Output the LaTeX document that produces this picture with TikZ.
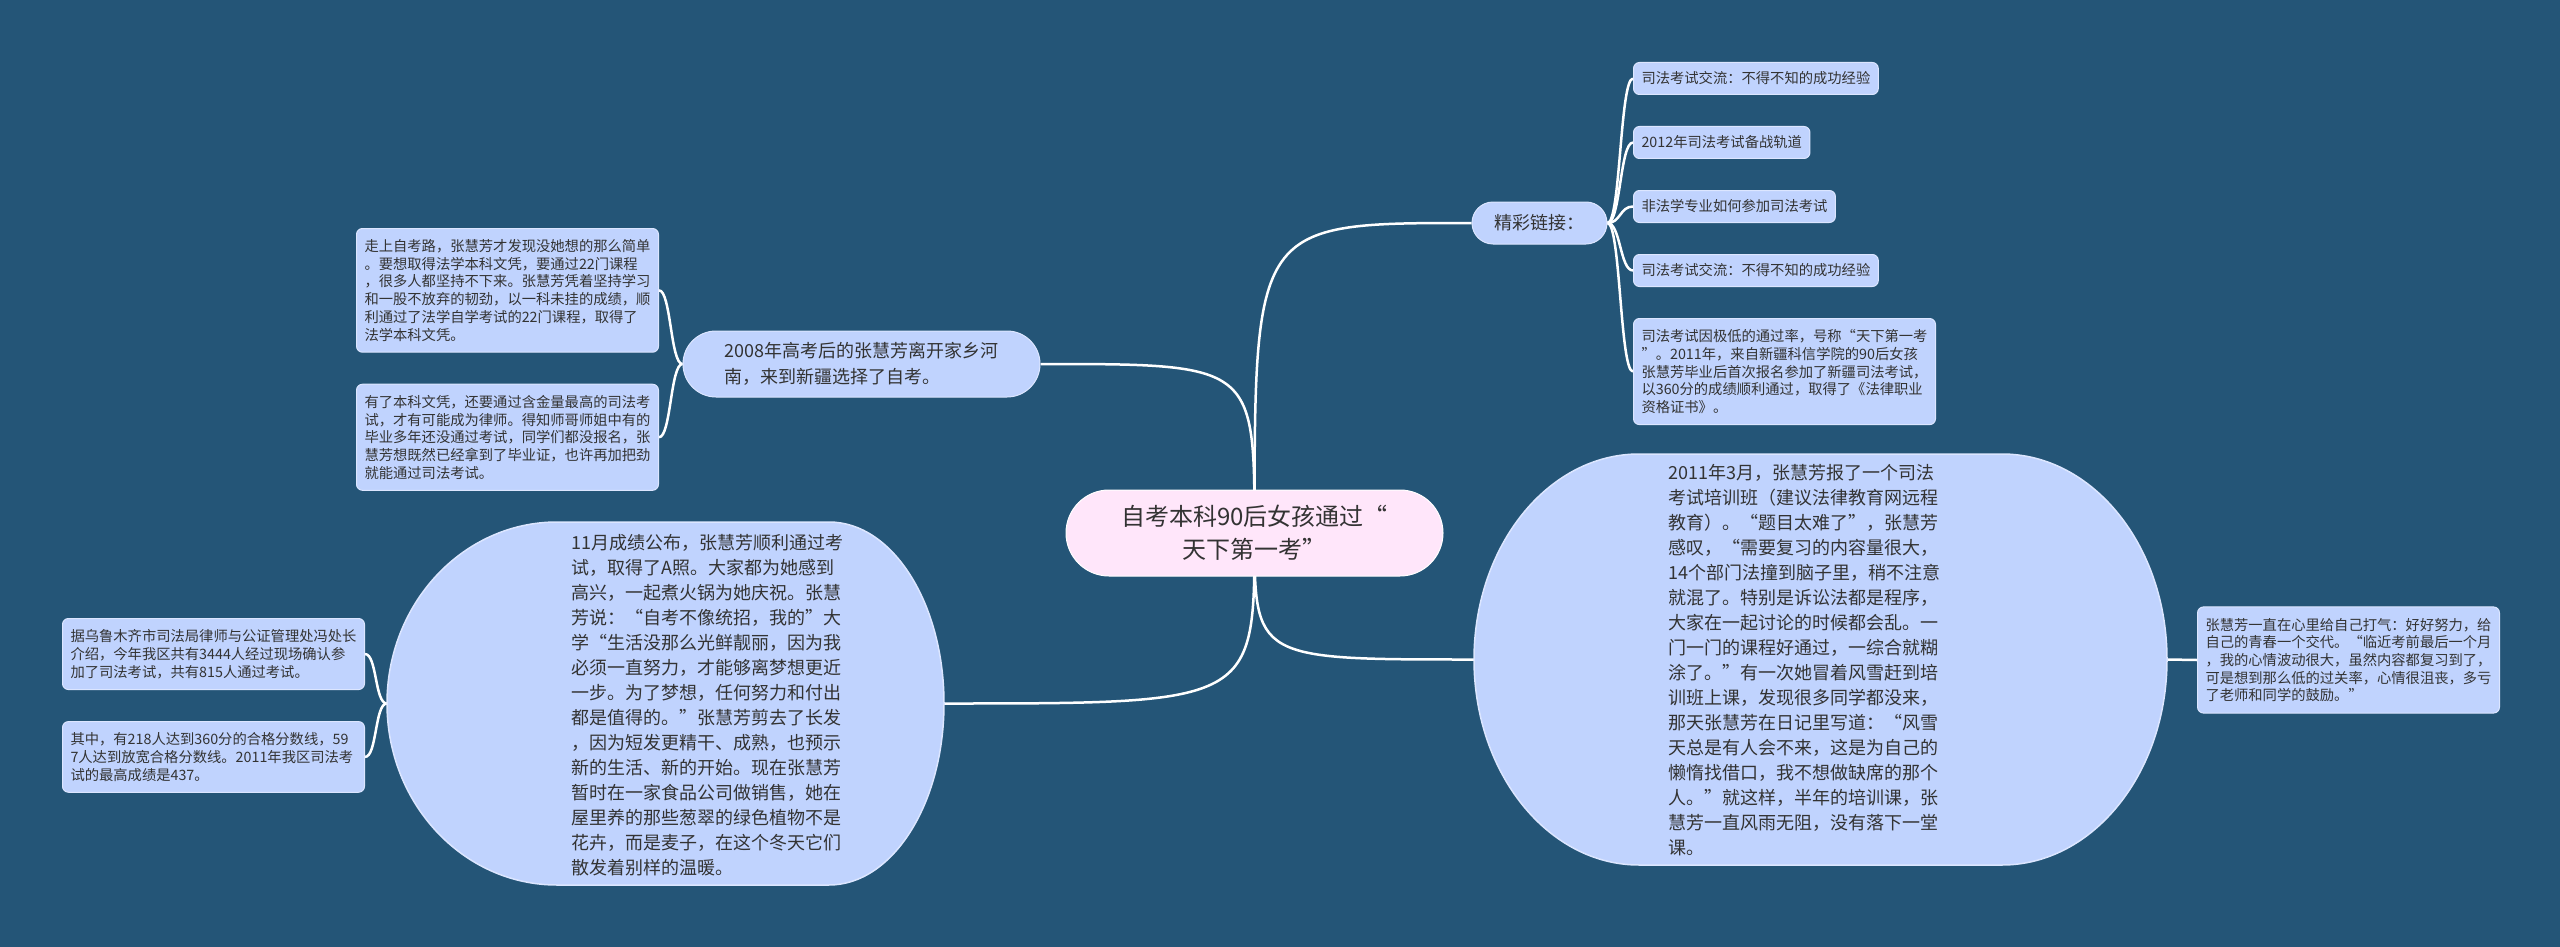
\documentclass[tikz,border=0pt]{standalone}
\usepackage{fontspec}
\usepackage{tikz}
\usetikzlibrary{positioning}
\newfontfamily\cjk{Noto Sans CJK SC}
\definecolor{bgblue}{HTML}{245577}
\definecolor{nodeblue}{HTML}{C0D3FE}
\definecolor{nodeedge}{HTML}{DCE6FF}
\definecolor{rootpink}{HTML}{FFE6FA}
\definecolor{inkgray}{HTML}{333333}
\pgfdeclarelayer{background}
\pgfsetlayers{background,main}
\tikzstyle{conn} = [draw=white, line width=2.5pt]
\tikzstyle{rootbox} = [draw=white, line width=1pt, fill=rootpink, rounded corners=43pt, minimum width=377pt, minimum height=86pt, align=center, text=inkgray, font=\cjk\fontsize{24pt}{33pt}\selectfont]
\tikzstyle{topicbox} = [draw=nodeedge, line width=1pt, fill=nodeblue, rounded corners=33pt, minimum width=357pt, minimum height=66pt, align=left, text=inkgray, font=\cjk\fontsize{18pt}{26pt}\selectfont]
\tikzstyle{notebox} = [draw=nodeedge, line width=1pt, fill=nodeblue, rounded corners=6pt, text width=286pt, inner xsep=8pt, inner ysep=11pt, align=left, text=inkgray, font=\cjk\fontsize{14.3pt}{17.7pt}\selectfont]
\tikzstyle{linkbox} = [draw=nodeedge, line width=1pt, fill=nodeblue, rounded corners=6pt, inner xsep=8pt, minimum height=32pt, text=inkgray, font=\cjk\fontsize{14.3pt}{17.7pt}\selectfont]
\tikzstyle{bigframe} = [inner sep=0pt]
\tikzstyle{bigfill} = [draw=nodeedge, line width=1.5pt, fill=nodeblue]
\tikzstyle{bigtext} = [inner sep=0pt, text width=275pt, align=left, text=inkgray, font=\cjk\fontsize{18pt}{25pt}\selectfont]
% x1,y1,x2,y2,left rx,right rx,ry
\newcommand{\bigpill}[7]{({#1+#5},#2) -- ({#3-#6},#2)
  .. controls ({#3-0.448*#6},#2) and (#3,{#2+0.448*#7}) .. (#3,{#2+#7})
  -- (#3,{#4-#7})
  .. controls (#3,{#4-0.448*#7}) and ({#3-0.448*#6},#4) .. ({#3-#6},#4)
  -- ({#1+#5},#4)
  .. controls ({#1+0.448*#5},#4) and (#1,{#4-0.448*#7}) .. (#1,{#4-#7})
  -- (#1,{#2+#7})
  .. controls (#1,{#2+0.448*#7}) and ({#1+0.448*#5},#2) .. ({#1+#5},#2) -- cycle}

\begin{document}
\begin{tikzpicture}[x=1pt, y=-1pt]
\useasboundingbox (0,0) rectangle (2560,947);

\node (root) [rootbox] at (1254.5,533) {自考本科90后女孩通过“\\天下第一考”};

\node (c2008) [topicbox] at (861.5,364) {2008年高考后的张慧芳离开家乡河\\南，来到新疆选择了自考。};
\node (note1) [notebox, anchor=north west] at (356,228) {走上自考路，张慧芳才发现没她想的那么简单\\。要想取得法学本科文凭，要通过22门课程\\，很多人都坚持不下来。张慧芳凭着坚持学习\\和一股不放弃的韧劲，以一科未挂的成绩，顺\\利通过了法学自学考试的22门课程，取得了\\法学本科文凭。};
\node (note2) [notebox, below=31pt of note1] {有了本科文凭，还要通过含金量最高的司法考\\试，才有可能成为律师。得知师哥师姐中有的\\毕业多年还没通过考试，同学们都没报名，张\\慧芳想既然已经拿到了毕业证，也许再加把劲\\就能通过司法考试。};

\node (cNov) [bigframe, minimum width=557pt, minimum height=363pt] at (665.5,703.5) {};
\filldraw [bigfill] \bigpill{387}{522}{944}{885}{170}{115}{181.5};
\node (cNovtxt) [bigtext] at (709,705) {11月成绩公布，张慧芳顺利通过考\\试，取得了A照。大家都为她感到\\高兴，一起煮火锅为她庆祝。张慧\\芳说：“自考不像统招，我的”大\\学“生活没那么光鲜靓丽，因为我\\必须一直努力，才能够离梦想更近\\一步。为了梦想，任何努力和付出\\都是值得的。”张慧芳剪去了长发\\，因为短发更精干、成熟，也预示\\新的生活、新的开始。现在张慧芳\\暂时在一家食品公司做销售，她在\\屋里养的那些葱翠的绿色植物不是\\花卉，而是麦子，在这个冬天它们\\散发着别样的温暖。};
\node (noteA) [notebox, anchor=north west] at (62,618) {据乌鲁木齐市司法局律师与公证管理处冯处长\\介绍，今年我区共有3444人经过现场确认参\\加了司法考试，共有815人通过考试。};
\node (noteB) [notebox, below=31pt of noteA] {其中，有218人达到360分的合格分数线，59\\7人达到放宽合格分数线。2011年我区司法考\\试的最高成绩是437。};

\node (cLinks) [topicbox, rounded corners=21pt, minimum width=135pt, minimum height=42pt] at (1539.5,223) {精彩链接：};
\node (link1) [linkbox, anchor=north west] at (1633,62) {司法考试交流：不得不知的成功经验};
\node (link2) [linkbox, below=31pt of link1.south west, anchor=north west] {2012年司法考试备战轨道};
\node (link3) [linkbox, below=31pt of link2.south west, anchor=north west] {非法学专业如何参加司法考试};
\node (link4) [linkbox, below=31pt of link3.south west, anchor=north west] {司法考试交流：不得不知的成功经验};
\node (link5) [notebox, below=31pt of link4.south west, anchor=north west] {司法考试因极低的通过率，号称“天下第一考\\”。2011年，来自新疆科信学院的90后女孩\\张慧芳毕业后首次报名参加了新疆司法考试，\\以360分的成绩顺利通过，取得了《法律职业\\资格证书》。};

\node (cMar) [bigframe, minimum width=693pt, minimum height=411pt] at (1820.5,659.5) {};
\filldraw [bigfill] \bigpill{1474}{454}{2167}{865}{165}{165}{205.5};
\node (cMartxt) [bigtext] at (1806,660) {2011年3月，张慧芳报了一个司法\\考试培训班（建议法律教育网远程\\教育）。“题目太难了”，张慧芳\\感叹，“需要复习的内容量很大，\\14个部门法撞到脑子里，稍不注意\\就混了。特别是诉讼法都是程序，\\大家在一起讨论的时候都会乱。一\\门一门的课程好通过，一综合就糊\\涂了。”有一次她冒着风雪赶到培\\训班上课，发现很多同学都没来，\\那天张慧芳在日记里写道：“风雪\\天总是有人会不来，这是为自己的\\懒惰找借口，我不想做缺席的那个\\人。”就这样，半年的培训课，张\\慧芳一直风雨无阻，没有落下一堂\\课。};
\node (rnote) [notebox, anchor=west] at (2197,660) {张慧芳一直在心里给自己打气：好好努力，给\\自己的青春一个交代。“临近考前最后一个月\\，我的心情波动很大，虽然内容都复习到了，\\可是想到那么低的过关率，心情很沮丧，多亏\\了老师和同学的鼓励。”};

\begin{pgfonlayer}{background}
\fill [bgblue] (0,0) rectangle (2560,947);
\draw [conn] (root.center) .. controls (root.center |- c2008.east) .. (c2008.east);
\draw [conn] (root.center) .. controls (root.center |- cLinks.west) .. (cLinks.west);
\draw [conn] (root.center) .. controls (root.center |- cNov.east) .. (cNov.east);
\draw [conn] (root.center) .. controls (root.center |- cMar.west) .. (cMar.west);
\foreach \n in {note1,note2}
  \draw [conn] (c2008.west) .. controls +(-12,0) and +(12,0) .. (\n.east);
\foreach \n in {noteA,noteB}
  \draw [conn] (cNov.west) .. controls +(-12,0) and +(12,0) .. (\n.east);
\foreach \n in {link1,link2,link3,link4,link5}
  \draw [conn] (cLinks.east) .. controls +(13,0) and +(-13,0) .. (\n.west);
\draw [conn] (cMar.east) -- (rnote.west);
\end{pgfonlayer}
\end{tikzpicture}
\end{document}
